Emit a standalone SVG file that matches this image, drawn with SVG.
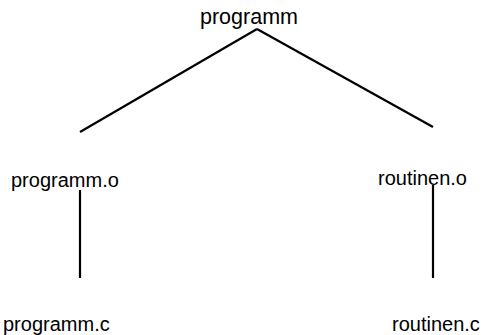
<svg xmlns="http://www.w3.org/2000/svg" width="484" height="335" viewBox="0 0 484 335">
<style>
text{font-family:"Liberation Sans",Arial,sans-serif;font-size:20px;fill:#000}
line{stroke:#000;stroke-width:2.2;stroke-linecap:butt}
</style>
<rect width="484" height="335" fill="#fff"/>
<g id="connectors">
<line x1="257" y1="29" x2="80" y2="132"/>
<line x1="257" y1="29" x2="433" y2="127"/>
<line x1="80" y1="190" x2="80" y2="278"/>
<line x1="433" y1="185" x2="433" y2="278"/>
</g>
<g id="programm"><text x="200" y="24" style="font-size:21.5px">programm</text></g>
<g id="programm_o"><text x="11" y="187">programm.o</text></g>
<g id="routinen_o"><text x="378" y="185">routinen.o</text></g>
<g id="programm_c"><text x="3" y="331">programm.c</text></g>
<g id="routinen_c"><text x="392" y="331">routinen.c</text></g>
</svg>
